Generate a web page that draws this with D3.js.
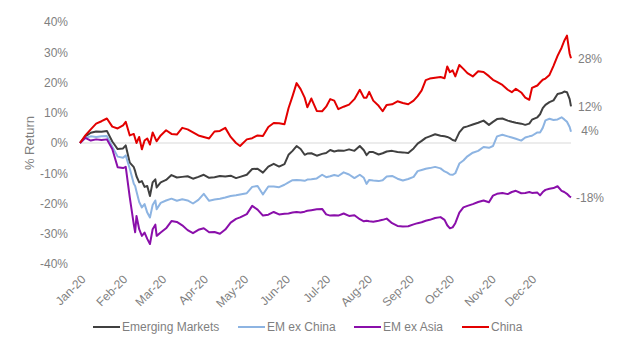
<!DOCTYPE html>
<html>
<head>
<meta charset="utf-8">
<script src="https://cdn.jsdelivr.net/npm/d3@7"></script>
<style>
  html, body { margin: 0; padding: 0; background: #fff; }
  svg { display: block; font-family: "Liberation Sans", Arial, sans-serif; }
  svg text { font-family: "Liberation Sans", Arial, sans-serif; }
</style>
</head>
<body>
<svg id="chart" width="619" height="356"></svg>
<script>
const dates = [
"2020-01-01","2020-01-05","2020-01-09","2020-01-13","2020-01-17","2020-01-21","2020-01-25","2020-01-29",
"2020-02-02","2020-02-04","2020-02-07","2020-02-10","2020-02-11","2020-02-12","2020-02-14","2020-02-16",
"2020-02-18","2020-02-20","2020-02-22","2020-02-24","2020-02-26","2020-02-27","2020-03-01","2020-03-05",
"2020-03-09","2020-03-13","2020-03-17","2020-03-21","2020-03-25","2020-03-29","2020-04-02","2020-04-06",
"2020-04-10","2020-04-14","2020-04-18","2020-04-22","2020-04-26","2020-04-29","2020-05-04","2020-05-08",
"2020-05-12","2020-05-16","2020-05-20","2020-05-24","2020-05-28","2020-06-01","2020-06-04","2020-06-07",
"2020-06-10","2020-06-13","2020-06-16","2020-06-18","2020-06-21","2020-06-25","2020-06-29","2020-07-02",
"2020-07-05","2020-07-08","2020-07-11","2020-07-15","2020-07-19","2020-07-23","2020-07-27","2020-07-30",
"2020-08-01","2020-08-03","2020-08-06","2020-08-10","2020-08-13","2020-08-16","2020-08-20","2020-08-24",
"2020-08-28","2020-09-01","2020-09-05","2020-09-08","2020-09-11","2020-09-14","2020-09-17","2020-09-21",
"2020-09-25","2020-09-28","2020-09-30","2020-10-02","2020-10-04","2020-10-06","2020-10-09","2020-10-12",
"2020-10-15","2020-10-19","2020-10-23","2020-10-27","2020-10-31","2020-11-03","2020-11-06","2020-11-10",
"2020-11-14","2020-11-17","2020-11-20","2020-11-24","2020-11-27","2020-11-30","2020-12-02","2020-12-06",
"2020-12-08","2020-12-10","2020-12-12","2020-12-15","2020-12-18","2020-12-21","2020-12-24","2020-12-26",
"2020-12-28","2020-12-30","2020-12-31"
];

const emergingMarkets = [
0,2.2,3.4,3.8,3.7,4.0,0.5,-2.0,
-1.8,-0.8,-6.5,-8.0,-9.3,-11.0,-13.0,-12.6,
-14.5,-14.2,-17.5,-13.0,-12.0,-14.7,-13.0,-12.2,
-10.6,-11.4,-11.2,-11.0,-11.8,-11.2,-10.5,-11.5,
-11.3,-10.9,-11.1,-10.8,-11.6,-11.2,-10.5,-8.6,
-8.5,-9.8,-7.8,-6.9,-7.8,-7.0,-3.9,-2.6,
-1.0,-2.0,-3.9,-3.5,-3.4,-4.2,-3.6,-3.3,
-2.3,-2.8,-2.5,-2.6,-2.1,-2.6,-1.0,-2.4,
-4.0,-3.0,-3.0,-3.8,-3.4,-2.8,-2.6,-3.0,
-3.1,-3.3,-1.8,-0.2,0.7,1.7,2.2,2.9,
2.4,2.2,2.0,1.6,1.0,0.7,3.5,5.1,
5.5,6.1,6.7,7.4,6.0,7.0,7.9,8.1,
7.4,7.0,6.7,6.4,6.0,6.4,7.7,8.5,
9.5,11.5,12.6,13.5,14.1,16.2,16.5,17.0,
16.8,14.5,12.1
];

const emExChina = [
0,1.7,2.2,2.0,2.2,2.3,-1.2,-4.5,
-4.9,-4.1,-8.5,-13.5,-14.2,-16.0,-19.5,-21.3,
-20.2,-23.0,-24.6,-20.5,-19.0,-21.9,-19.8,-19.0,
-18.4,-19.1,-18.6,-19.0,-20.0,-18.8,-16.8,-19.1,
-18.7,-18.4,-18.0,-17.5,-17.3,-17.0,-16.6,-14.5,
-14.2,-17.0,-14.4,-14.4,-14.6,-13.8,-13.0,-12.3,
-12.2,-12.3,-12.5,-12.1,-12.0,-11.7,-10.5,-11.3,
-11.0,-10.6,-10.9,-9.7,-10.4,-11.6,-10.5,-11.5,
-13.5,-12.2,-12.4,-12.6,-12.3,-11.1,-10.9,-11.8,
-12.4,-11.9,-11.2,-9.3,-8.9,-8.5,-8.3,-7.9,
-8.4,-9.4,-9.8,-10.4,-10.5,-10.0,-6.8,-5.8,
-4.4,-3.2,-2.6,-1.3,-1.6,-1.0,2.2,2.7,
2.2,1.8,1.4,0.8,1.8,2.2,2.4,3.5,
3.5,5.0,7.5,8.0,7.6,7.8,8.5,7.8,
7.0,5.3,3.7
];

const emExAsia = [
0,1.7,0.8,1.2,1.0,1.2,-2.0,-8.0,
-8.3,-7.9,-18.0,-27.0,-29.5,-24.1,-28.5,-30.7,
-29.6,-31.7,-33.4,-28.5,-27.0,-30.7,-29.6,-28.2,
-25.8,-26.1,-27.2,-28.8,-29.8,-28.7,-28.2,-29.5,
-29.4,-30.0,-28.6,-26.3,-25.1,-24.6,-23.5,-20.8,
-22.0,-24.0,-23.7,-22.8,-23.6,-23.4,-23.3,-23.0,
-22.8,-23.0,-22.7,-22.4,-22.2,-21.9,-21.8,-23.6,
-24.0,-23.9,-24.0,-23.3,-24.1,-23.9,-25.2,-25.9,
-25.7,-25.9,-26.0,-25.7,-25.4,-25.0,-26.5,-27.4,
-27.6,-27.5,-26.9,-26.5,-26.2,-25.7,-25.4,-24.8,
-24.5,-25.4,-27.2,-28.2,-27.9,-26.5,-23.0,-21.3,
-20.8,-20.2,-19.5,-19.0,-19.6,-17.4,-16.8,-16.5,
-16.9,-16.2,-15.8,-16.6,-16.5,-16.2,-16.5,-16.4,
-17.3,-16.2,-15.5,-15.1,-14.9,-14.3,-15.8,-16.2,
-16.8,-17.7,-18.0
];

const china = [
0,2.5,4.5,6.4,7.2,8.1,5.4,4.8,
5.8,7.0,2.5,3.0,1.5,0.0,2.0,-2.1,
0.8,1.5,-0.5,3.5,1.5,0.6,2.5,4.2,
3.0,2.8,5.0,4.5,3.5,2.5,2.0,1.5,
3.8,4.0,5.0,2.0,0.0,-1.0,1.2,1.6,
2.5,2.3,5.3,6.6,6.5,6.2,11.5,15.5,
19.8,17.8,15.0,11.8,14.7,10.6,10.5,12.0,
14.5,14.0,11.2,12.0,12.7,14.5,17.6,15.0,
15.0,16.9,14.0,12.3,10.5,12.6,12.8,13.8,
13.2,12.8,14.0,15.5,17.4,20.8,21.3,21.6,
21.8,21.4,25.3,23.4,24.0,22.0,25.8,24.5,
23.1,22.0,23.7,23.5,22.1,20.9,20.2,19.2,
17.6,16.8,17.9,16.7,15.0,14.3,18.2,19.0,
20.0,20.9,21.3,22.5,25.5,28.8,31.5,33.8,
35.5,29.5,28.0
];

const seriesNames = ["Emerging Markets", "EM ex China", "EM ex Asia", "China"];
const seriesColors = ["#404040", "#8DB4E2", "#8A0FAA", "#E30000"];
const seriesValues = [emergingMarkets, emExChina, emExAsia, china];
const endLabels = ["12%", "4%", "-18%", "28%"];
const yTicks = [-40, -30, -20, -10, 0, 10, 20, 30, 40];
const monthTicks = ["2020-01-01","2020-02-01","2020-03-01","2020-04-01","2020-05-01","2020-06-01",
                    "2020-07-01","2020-08-01","2020-09-01","2020-10-01","2020-11-01","2020-12-01"];

const parse = d3.timeParse("%Y-%m-%d");
const dateObjs = dates.map(parse);

const svg = d3.select("#chart");
const textColor = "#7F7F7F";
const FONT = "'Liberation Sans', Arial, sans-serif";

const x = d3.scaleTime()
  .domain([parse("2020-01-01"), parse("2020-12-31")])
  .range([80, 571]);
const y = d3.scaleLinear().domain([-40, 40]).range([264, 22]);

// zero line
svg.append("line")
  .attr("x1", x.range()[0]).attr("x2", x.range()[1])
  .attr("y1", y(0)).attr("y2", y(0))
  .attr("stroke", "#D9D9D9").attr("stroke-width", 1);

// Y axis
const yAxis = d3.axisLeft(y).tickValues(yTicks).tickFormat(d => d + "%").tickSize(0).tickPadding(0);
const yg = svg.append("g").attr("transform", "translate(68,0)").call(yAxis);
yg.select(".domain").remove();
yg.selectAll("text").attr("fill", textColor).style("font-size", "12px").style("font-family", FONT);

// Y title
svg.append("text")
  .attr("transform", "translate(34,143) rotate(-90)")
  .attr("text-anchor", "middle")
  .attr("fill", textColor)
  .style("font-size", "13px")
  .style("font-family", FONT)
  .text("% Return");

// X axis
const xAxis = d3.axisBottom(x).tickValues(monthTicks.map(parse))
  .tickFormat(d3.timeFormat("%b-%y")).tickSize(0).tickPadding(0);
const xg = svg.append("g").attr("transform", "translate(0,274)").call(xAxis);
xg.select(".domain").remove();
xg.selectAll("text")
  .attr("fill", textColor)
  .style("font-size", "12px")
  .style("font-family", FONT)
  .attr("text-anchor", "end")
  .attr("dy", "0")
  .attr("y", 0)
  .attr("transform", "translate(6,6) rotate(-45)");

// Lines
const line = d3.line()
  .x((d, i) => x(dateObjs[i]))
  .y(d => y(d));

seriesValues.forEach((vals, k) => {
  svg.append("path")
    .datum(vals)
    .attr("fill", "none")
    .attr("stroke", seriesColors[k])
    .attr("stroke-width", 2)
    .attr("stroke-linejoin", "round")
    .attr("d", line);
});

// End labels
seriesValues.forEach((vals, k) => {
  const v = parseFloat(endLabels[k]);
  svg.append("text")
    .attr("x", 590)
    .attr("y", y(v))
    .attr("dy", "0.35em")
    .attr("text-anchor", "middle")
    .attr("fill", textColor)
    .style("font-size", "12px")
    .style("font-family", FONT)
    .text(endLabels[k]);
});

// Legend
const legendX = [93, 238, 354, 462];
seriesNames.forEach((name, k) => {
  const g = svg.append("g").attr("transform", `translate(${legendX[k]},327)`);
  g.append("line").attr("x1", 0).attr("x2", 27).attr("y1", 0).attr("y2", 0)
    .attr("stroke", seriesColors[k]).attr("stroke-width", 2);
  g.append("text").attr("x", 29).attr("y", 0).attr("dy", "0.35em")
    .attr("fill", textColor).style("font-size", "12px").style("font-family", FONT).text(name);
});
</script>
</body>
</html>
